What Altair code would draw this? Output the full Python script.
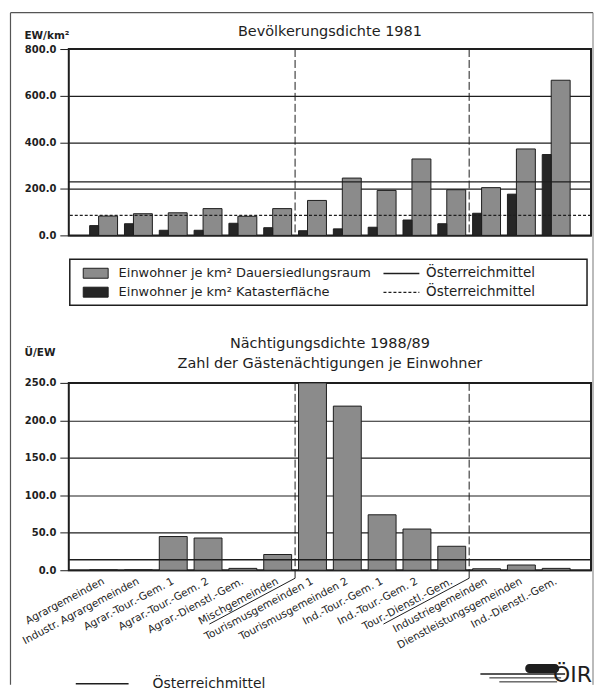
import altair as alt
import pandas as pd

# ---------------- data ----------------
categories = [
    "Agrargemeinden", "Industr. Agrargemeinden", "Agrar.-Tour.-Gem. 1",
    "Agrar.-Tour.-Gem. 2", "Agrar.-Dienstl.-Gem.", "Mischgemeinden",
    "Tourismusgemeinden 1", "Tourismusgemeinden 2", "Ind.-Tour.-Gem. 1",
    "Ind.-Tour.-Gem. 2", "Tour.-Dienstl.-Gem.", "Industriegemeinden",
    "Dienstleistungsgemeinden", "Ind.-Dienstl.-Gem.",
]
dichte_dsr = [83, 93, 97, 115, 82, 115, 150, 246, 193, 328, 196, 205, 371, 666]
dichte_kat = [42, 50, 22, 22, 52, 33, 20, 28, 35, 66, 50, 95, 177, 347]
mittel_dsr = 230
mittel_kat = 86
naechtigungen = [0.5, 0.5, 45, 43, 2.5, 21, 250, 219, 74, 55, 32, 2, 7, 2.5]
mittel_naechtigungen = 14
gruppen_beginn = ["Tourismusgemeinden 1", "Industriegemeinden"]

S_DSR = "Einwohner je km² Dauersiedlungsraum"
S_KAT = "Einwohner je km² Katasterfläche"
M_DSR = "Mittel DSR"
M_KAT = "Mittel KAT"

FONT = "DejaVu Sans"
INK = "#1e1e1e"

bars_df = pd.DataFrame({
    "cat": categories * 2,
    "serie": [S_DSR] * len(categories) + [S_KAT] * len(categories),
    "wert": dichte_dsr + dichte_kat,
})
mittel_df = pd.DataFrame({"art": [M_DSR, M_KAT], "wert": [mittel_dsr, mittel_kat]})
sep_df = pd.DataFrame({"cat": gruppen_beginn})
one = pd.DataFrame({"k": [0]})
n_df = pd.DataFrame({"cat": categories, "wert": naechtigungen})
nm_df = pd.DataFrame({"art2": ["Österreichmittel"], "wert": [mittel_naechtigungen]})

W, H1, H2 = 524, 187, 188
x_scale = alt.Scale(domain=categories, paddingInner=0, paddingOuter=0.5)

# ---------------- top chart ----------------
color_legend = alt.Legend(
    title=None, orient="none", legendX=20.5, legendY=218.5,
    symbolType="M-2.5,-1H2.5V1H-2.5Z", symbolSize=100,
    symbolStrokeColor=INK, symbolStrokeWidth=1,
    labelFontSize=13, labelOffset=16.5, rowPadding=4, padding=0, labelLimit=400,
)
color = alt.Color("serie:N", scale=alt.Scale(domain=[S_DSR, S_KAT], range=["#8b8b8b", "#262626"]),
                  legend=color_legend)

x_top = alt.X("cat:N", scale=x_scale,
              axis=alt.Axis(labels=False, ticks=False, domain=False, title=None, grid=False))
y_top = alt.Y("wert:Q", scale=alt.Scale(domain=[0, 800]),
              axis=alt.Axis(values=[0, 200, 400, 600, 800], format=".1f", title="EW/km²",
                            labelOverlap=False,
                            titleAngle=0, titleX=-45, titleY=-11, titleAlign="left",
                            titleBaseline="alphabetic", titleFontSize=10.5, titleFontWeight="bold"))

bars_base = alt.Chart(bars_df)
light = bars_base.transform_filter(alt.datum.serie == S_DSR).mark_bar(
    width=19, xOffset=4.5, stroke=INK, strokeWidth=1).encode(x=x_top, y=y_top, color=color)
dark = bars_base.transform_filter(alt.datum.serie == S_KAT).mark_bar(
    width=9, xOffset=-9.5, stroke=INK, strokeWidth=1).encode(x=x_top, y=y_top, color=color)

mittel = alt.Chart(mittel_df).mark_rule(color=INK, strokeWidth=1.3).encode(
    y=y_top,
    strokeDash=alt.StrokeDash(
        "art:N", scale=alt.Scale(domain=[M_DSR, M_KAT], range=[[1, 0], [3, 2]]),
        legend=alt.Legend(title=None, orient="none", legendX=327, legendY=218.5,
                          symbolType="M-3.6,0H3.6", symbolSize=100, symbolStrokeColor=INK,
                          symbolStrokeWidth=1.3, labelFontSize=13.5, labelOffset=18,
                          rowPadding=4, padding=0, labelExpr="'Österreichmittel'")),
)

sep_top = alt.Chart(sep_df).mark_rule(color=INK, strokeWidth=1, strokeDash=[8, 3]).encode(
    x=alt.X("cat:N", bandPosition=0))

frame_l = alt.Chart(one).mark_rule(color="#555", strokeWidth=1.2).encode(
    x=alt.value(-58.5), y=alt.value(-36.5), y2=alt.value(638))
frame_t = alt.Chart(one).mark_rule(color="#555", strokeWidth=1.2).encode(
    x=alt.value(-58.5), x2=alt.value(526), y=alt.value(-36.5))
frame_r = alt.Chart(one).mark_rule(color="#777", strokeWidth=1).encode(
    x=alt.value(526), y=alt.value(-36.5), y2=alt.value(638))
legend_box = alt.Chart(one).mark_rect(filled=False, stroke=INK, strokeWidth=1.5).encode(
    x=alt.value(1), x2=alt.value(520), y=alt.value(211), y2=alt.value(257))

top = alt.layer(frame_l, frame_t, frame_r, legend_box, light, dark, mittel, sep_top).properties(
    width=W, height=H1,
    title=alt.TitleParams("Bevölkerungsdichte 1981", offset=-28, anchor="middle", fontSize=14.5),
)

# ---------------- bottom chart ----------------
x_bot = alt.X("cat:N", scale=x_scale,
              axis=alt.Axis(title=None, ticks=False, domain=False, grid=False,
                            labelAngle=332, labelAlign="right", labelBaseline="middle",
                            labelFontSize=10.5, labelPadding=10, labelLimit=250))
y_bot = alt.Y("wert:Q", scale=alt.Scale(domain=[0, 250]),
              axis=alt.Axis(values=[0, 50, 100, 150, 200, 250], format=".1f", title="Ü/EW",
                            labelOverlap=False,
                            titleAngle=0, titleX=-45, titleY=-27, titleAlign="left",
                            titleBaseline="alphabetic", titleFontSize=10.5, titleFontWeight="bold"))

nbars = alt.Chart(n_df).mark_bar(width=28, color="#8b8b8b", stroke=INK, strokeWidth=1).encode(
    x=x_bot, y=y_bot)
nmittel = alt.Chart(nm_df).mark_rule(color=INK, strokeWidth=1.3).encode(
    y=y_bot,
    strokeDash=alt.StrokeDash(
        "art2:N", scale=alt.Scale(domain=["Österreichmittel"], range=[[1, 0]]),
        legend=alt.Legend(title=None, orient="none", legendX=26.5, legendY=295,
                          symbolType="M-5.3,0H5.3", symbolSize=100, symbolStrokeColor=INK,
                          symbolStrokeWidth=1.5, labelFontSize=14, labelOffset=43.5, padding=0)),
)
sep_bot = alt.Chart(sep_df).mark_rule(color=INK, strokeWidth=1, strokeDash=[8, 3]).encode(
    x=alt.X("cat:N", bandPosition=0), y=alt.value(0), y2=alt.value(H2))
sep_stub = alt.Chart(sep_df).mark_rule(color=INK, strokeWidth=1).encode(
    x=alt.X("cat:N", bandPosition=0), y=alt.value(H2), y2=alt.value(H2 + 8))
underline = alt.Chart(sep_df).mark_rule(color=INK, strokeWidth=1, x2Offset=-86).encode(
    x=alt.X("cat:N", bandPosition=0), x2=alt.X2("cat:N", bandPosition=0),
    y=alt.value(H2 + 8), y2=alt.value(H2 + 8 + 46))

logo_text = alt.Chart(one).mark_text(text="ÖIR", font=FONT, fontSize=22, align="right",
                                     baseline="alphabetic", color=INK).encode(
    x=alt.value(525), y=alt.value(300))
logo_l1 = alt.Chart(one).mark_rule(color=INK, strokeWidth=1.5).encode(
    x=alt.value(413), x2=alt.value(498), y=alt.value(292))
logo_l2 = alt.Chart(one).mark_rule(color=INK, strokeWidth=1).encode(
    x=alt.value(422), x2=alt.value(494), y=alt.value(296))
logo_l3 = alt.Chart(one).mark_rule(color=INK, strokeWidth=1).encode(
    x=alt.value(432), x2=alt.value(490), y=alt.value(300))
logo_ship = alt.Chart(one).mark_rect(color=INK, cornerRadius=4).encode(
    x=alt.value(458), x2=alt.value(492), y=alt.value(282), y2=alt.value(291))

bottom = alt.layer(nbars, nmittel, sep_bot, sep_stub, underline,
                   logo_text, logo_l1, logo_l2, logo_l3, logo_ship).properties(
    width=W, height=H2,
    title=alt.TitleParams(["Nächtigungsdichte 1988/89", "Zahl der Gästenächtigungen je Einwohner"],
                          offset=-24, anchor="middle", fontSize=14.5, lineHeight=21),
)

chart = alt.vconcat(top, bottom, spacing=148, bounds="flush").resolve_scale(
    strokeDash="independent", color="independent"
).resolve_legend(strokeDash="independent", color="independent").properties(
    padding={"left": 0, "top": 1, "right": 0, "bottom": 0}, background="white",
).configure_view(stroke=INK, strokeWidth=2).configure_axis(
    labelFont=FONT, titleFont=FONT, labelColor=INK, titleColor=INK,
    labelFontSize=10, labelFontWeight="bold", gridColor=INK, gridWidth=1.2,
    tickColor=INK, tickSize=9, labelPadding=4, domain=False,
).configure_axisX(labelFontWeight="normal").configure_title(
    font=FONT, fontWeight="normal", color=INK,
).configure_legend(labelFont=FONT, labelColor=INK)

chart.save("out.html", embed_options={"renderer": "svg", "actions": False})
